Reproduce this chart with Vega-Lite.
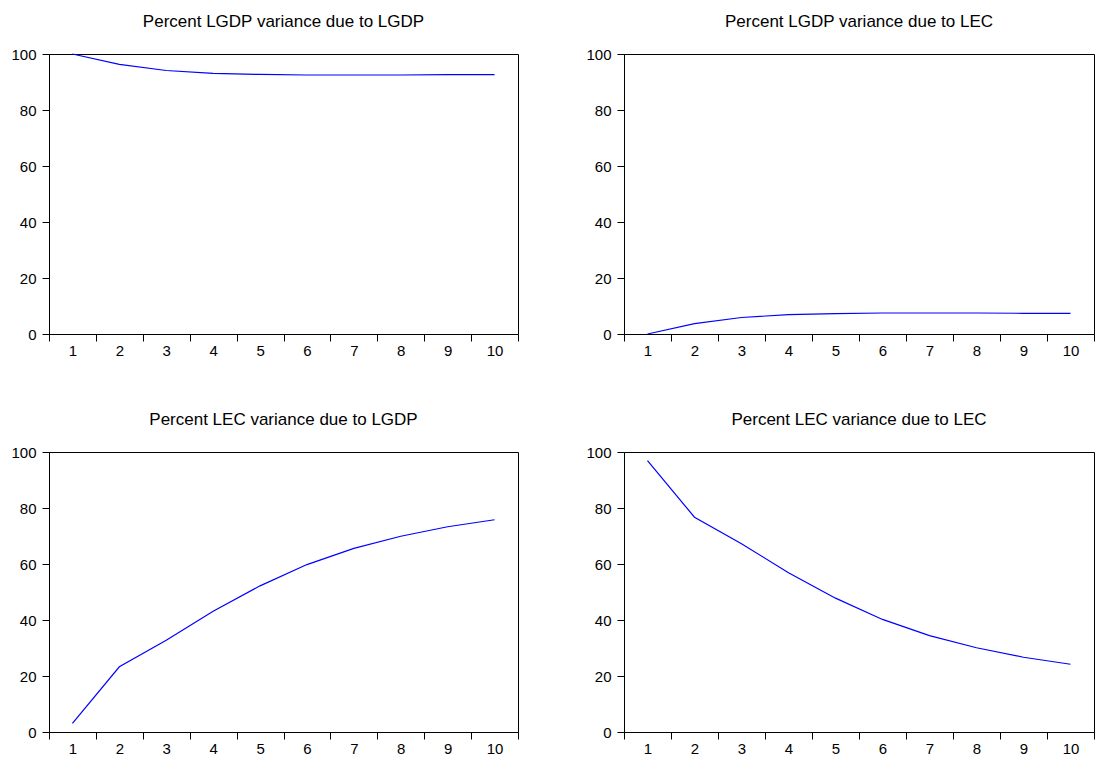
{
  "$schema": "https://vega.github.io/schema/vega-lite/v6.json",
  "background": "white",
  "padding": {"left": 10, "top": 12, "right": 4, "bottom": 4},
  "data": {
    "values": [
      {"h": 1, "lgdp_lgdp": 100.0, "lgdp_lec": 0.0, "lec_lgdp": 3.1, "lec_lec": 96.9},
      {"h": 2, "lgdp_lgdp": 96.3, "lgdp_lec": 3.7, "lec_lgdp": 23.3, "lec_lec": 76.7},
      {"h": 3, "lgdp_lgdp": 94.1, "lgdp_lec": 5.9, "lec_lgdp": 32.8, "lec_lec": 67.2},
      {"h": 4, "lgdp_lgdp": 93.1, "lgdp_lec": 6.9, "lec_lgdp": 43.1, "lec_lec": 56.9},
      {"h": 5, "lgdp_lgdp": 92.7, "lgdp_lec": 7.3, "lec_lgdp": 52.2, "lec_lec": 47.8},
      {"h": 6, "lgdp_lgdp": 92.5, "lgdp_lec": 7.5, "lec_lgdp": 59.8, "lec_lec": 40.2},
      {"h": 7, "lgdp_lgdp": 92.5, "lgdp_lec": 7.5, "lec_lgdp": 65.6, "lec_lec": 34.4},
      {"h": 8, "lgdp_lgdp": 92.5, "lgdp_lec": 7.5, "lec_lgdp": 69.9, "lec_lec": 30.1},
      {"h": 9, "lgdp_lgdp": 92.6, "lgdp_lec": 7.4, "lec_lgdp": 73.3, "lec_lec": 26.7},
      {"h": 10, "lgdp_lgdp": 92.6, "lgdp_lec": 7.4, "lec_lgdp": 75.8, "lec_lec": 24.2}
    ]
  },
  "config": {
    "font": "Liberation Sans",
    "view": {"stroke": "black", "strokeWidth": 1},
    "axis": {
      "grid": false,
      "domainColor": "black",
      "tickColor": "black",
      "labelColor": "black",
      "labelFont": "Liberation Sans",
      "labelFontSize": 15,
      "tickSize": 7,
      "title": null
    },
    "title": {
      "font": "Liberation Sans",
      "fontSize": 17,
      "fontWeight": "normal",
      "color": "black",
      "anchor": "middle",
      "frame": "group",
      "offset": 16
    }
  },
  "bounds": "flush",
  "columns": 2,
  "spacing": {"row": 118, "column": 106},
  "concat": [
    {
      "width": 469, "height": 280,
      "title": "Percent LGDP variance due to LGDP",
      "mark": {"type": "line", "color": "#0000FF", "strokeWidth": 1.2},
      "encoding": {
        "x": {"field": "h", "type": "ordinal", "bandPosition": 0.5,
              "scale": {"type": "band", "paddingInner": 0, "paddingOuter": 0},
              "axis": {"labelAngle": 0, "tickBand": "extent", "labelPadding": 2}},
        "y": {"field": "lgdp_lgdp", "type": "quantitative",
              "scale": {"domain": [0, 100], "nice": false},
              "axis": {"values": [0, 20, 40, 60, 80, 100], "labelPadding": 6}}
      }
    },
    {
      "width": 470, "height": 280,
      "title": "Percent LGDP variance due to LEC",
      "mark": {"type": "line", "color": "#0000FF", "strokeWidth": 1.2},
      "encoding": {
        "x": {"field": "h", "type": "ordinal", "bandPosition": 0.5,
              "scale": {"type": "band", "paddingInner": 0, "paddingOuter": 0},
              "axis": {"labelAngle": 0, "tickBand": "extent", "labelPadding": 2}},
        "y": {"field": "lgdp_lec", "type": "quantitative",
              "scale": {"domain": [0, 100], "nice": false},
              "axis": {"values": [0, 20, 40, 60, 80, 100], "labelPadding": 6}}
      }
    },
    {
      "width": 469, "height": 280,
      "title": "Percent LEC variance due to LGDP",
      "mark": {"type": "line", "color": "#0000FF", "strokeWidth": 1.2},
      "encoding": {
        "x": {"field": "h", "type": "ordinal", "bandPosition": 0.5,
              "scale": {"type": "band", "paddingInner": 0, "paddingOuter": 0},
              "axis": {"labelAngle": 0, "tickBand": "extent", "labelPadding": 2}},
        "y": {"field": "lec_lgdp", "type": "quantitative",
              "scale": {"domain": [0, 100], "nice": false},
              "axis": {"values": [0, 20, 40, 60, 80, 100], "labelPadding": 6}}
      }
    },
    {
      "width": 470, "height": 280,
      "title": "Percent LEC variance due to LEC",
      "mark": {"type": "line", "color": "#0000FF", "strokeWidth": 1.2},
      "encoding": {
        "x": {"field": "h", "type": "ordinal", "bandPosition": 0.5,
              "scale": {"type": "band", "paddingInner": 0, "paddingOuter": 0},
              "axis": {"labelAngle": 0, "tickBand": "extent", "labelPadding": 2}},
        "y": {"field": "lec_lec", "type": "quantitative",
              "scale": {"domain": [0, 100], "nice": false},
              "axis": {"values": [0, 20, 40, 60, 80, 100], "labelPadding": 6}}
      }
    }
  ]
}
